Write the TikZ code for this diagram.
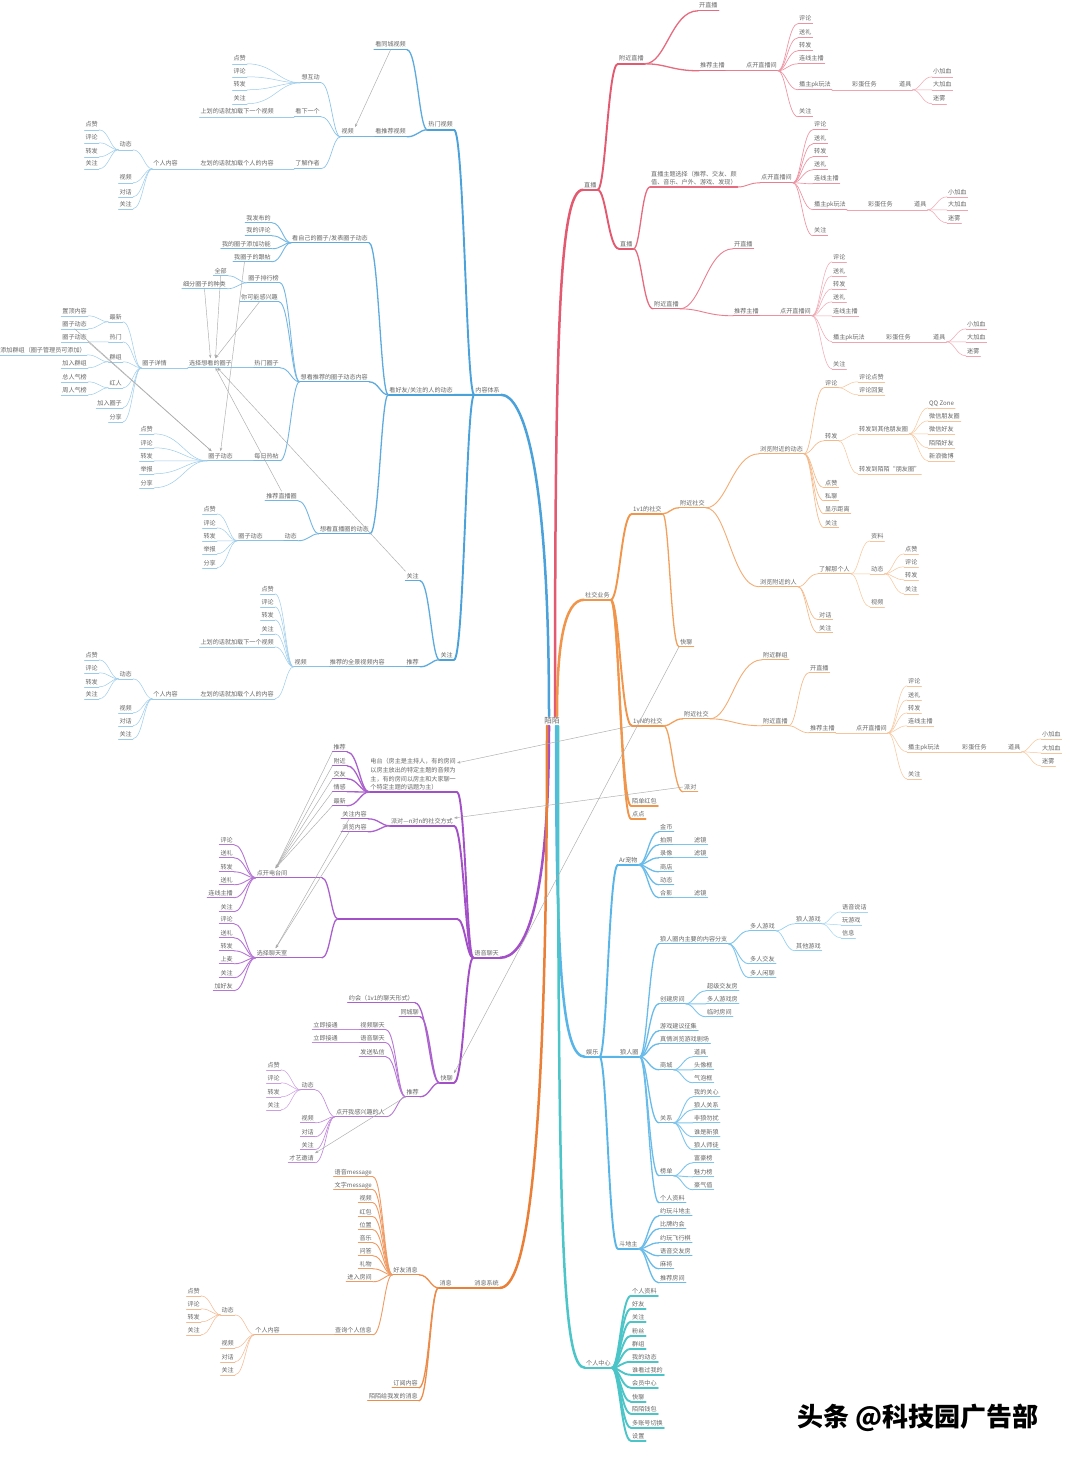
\documentclass[tikz,border=0pt]{standalone}
\usepackage{fontspec}
\newfontfamily\cjk{Noto Sans CJK SC}
\usetikzlibrary{arrows.meta, calc}
\definecolor{cred}{HTML}{E35A70}
\definecolor{corange}{HTML}{F0954A}
\definecolor{csky}{HTML}{58B5E8}
\definecolor{cteal}{HTML}{4CC5C8}
\definecolor{cblue}{HTML}{4BA2DA}
\definecolor{cpurple}{HTML}{A24FC8}
\definecolor{cmsg}{HTML}{EA7F37}
\definecolor{cgrey}{HTML}{666666}
\definecolor{clink}{HTML}{ABABAB}
\colorlet{bc}{cred}
\tikzset{
  tx/.style={font=\cjk\fontsize{6.1}{7.3}\selectfont, text=cgrey, inner xsep=1pt, inner ysep=1.4pt},
  one/.style={tx, text height=5.2pt, text depth=1.2pt},
  ul/.style={append after command={(\tikzlastnode.south west) edge[#1] (\tikzlastnode.south east)}},
  nr/.style={one, anchor=west, ul=#1},
  nl/.style={one, anchor=east, ul=#1},
  l1/.style={draw=bc, line width=2.5pt},
  l2/.style={draw=bc, line width=1.9pt},
  l3/.style={draw=bc!90!white, line width=1.3pt},
  l4/.style={draw=bc!78!white, line width=0.9pt},
  l5/.style={draw=bc!66!white, line width=0.65pt},
  l6/.style={draw=bc!55!white, line width=0.5pt},
  lk/.style={to path={.. controls ($(\tikztostart)!.4!(\tikztotarget|-\tikztostart)$) and ($(\tikztotarget)!.5!(\tikztostart|-\tikztotarget)$) .. (\tikztotarget) \tikztonodes}},
  xl/.style={draw=clink, line width=0.45pt, -{Stealth[length=3.5pt, width=2.6pt]}},
}
\begin{document}
\begin{tikzpicture}[x=1pt, y=-1pt, line cap=round]
\useasboundingbox (0,0) rectangle (1080,1458);
\fill[white] (0,0) rectangle (1080,1458);
\node[tx, font=\cjk\fontsize{7.6}{9}\selectfont] (mm) at (552,721) {陌陌};

% 直播
\begin{scope}
\colorlet{bc}{cred}
\node[nr=l1] (zb) at (583,185) {直播};
\draw[l1] ([xshift=3pt]mm.north) .. controls +(0,-380) and +(-24,0) .. (zb.south west);
\node[nr=l2] (zb1) at (618,59) {附近直播};
\node[nr=l2] (zb2) at (619,244) {直播};
\foreach \c in {zb1,zb2} \draw[l2] (zb.south east) to[lk] (\c.south west);
\node[nr=l3] (zb1a) at (698,6) {开直播};
\node[nr=l3] (zb1b) at (699,66) {推荐主播};
\foreach \c in {zb1a,zb1b} \draw[l3] (zb1.south east) to[lk] (\c.south west);
\node[nr=l4] (zb1c) at (745,66) {点开直播间};
\draw[l4] (zb1b.south east) -- (zb1c.south west);
\foreach \y/\t [count=\i] in {19/评论,33/送礼,46/转发,59/连线主播,85/播主pk玩法,112/关注} {
  \node[nr=l5] (zb1d\i) at (798,\y) {\t};
  \draw[l5] (zb1c.south east) to[lk] (zb1d\i.south west);
}
\node[nr=l6] (zb1e) at (851,85) {彩蛋任务};
\node[nr=l6] (zb1f) at (898,85) {道具};
\draw[l6] (zb1d5.south east) -- (zb1e.south west);
\draw[l6] (zb1e.south east) -- (zb1f.south west);
\foreach \y/\t [count=\i] in {72/小加血,85/大加血,99/迷雾} {
  \node[nr=l6] (zb1g\i) at (932,\y) {\t};
  \draw[l6] (zb1f.south east) to[lk] (zb1g\i.south west);
}
\node[tx, anchor=south west, align=left, font=\cjk\fontsize{6.1}{8.8}\selectfont, ul=l3] (zb2a) at (650,187) {直播主题选择（推荐、交友、颜\\值、音乐、户外、游戏、发现）};
\node[nr=l3] (zb2g) at (653,304) {附近直播};
\foreach \c in {zb2a,zb2g} \draw[l3] (zb2.south east) to[lk] (\c.south west);
\node[nr=l4] (zb2b) at (760,178) {点开直播间};
\draw[l4] (zb2a.south east) to[lk] (zb2b.south west);
\foreach \y/\t [count=\i] in {125/评论,139/送礼,152/转发,165/送礼,179/连线主播,205/播主pk玩法,231/关注} {
  \node[nr=l5] (zb2c\i) at (813,\y) {\t};
  \draw[l5] (zb2b.south east) to[lk] (zb2c\i.south west);
}
\node[nr=l6] (zb2d) at (867,205) {彩蛋任务};
\node[nr=l6] (zb2e) at (913,205) {道具};
\draw[l6] (zb2c6.south east) -- (zb2d.south west);
\draw[l6] (zb2d.south east) -- (zb2e.south west);
\foreach \y/\t [count=\i] in {192/小加血,205/大加血,218/迷雾} {
  \node[nr=l6] (zb2f\i) at (947,\y) {\t};
  \draw[l6] (zb2e.south east) to[lk] (zb2f\i.south west);
}
\node[nr=l4] (zb2h) at (733,244) {开直播};
\node[nr=l4] (zb2i) at (733,311) {推荐主播};
\foreach \c in {zb2h,zb2i} \draw[l4] (zb2g.south east) to[lk] (\c.south west);
\node[nr=l5] (zb2j) at (779,311) {点开直播间};
\draw[l5] (zb2i.south east) -- (zb2j.south west);
\foreach \y/\t [count=\i] in {257/评论,271/送礼,284/转发,297/送礼,311/连线主播,337/播主pk玩法,364/关注} {
  \node[nr=l6] (zb2k\i) at (832,\y) {\t};
  \draw[l6] (zb2j.south east) to[lk] (zb2k\i.south west);
}
\node[nr=l6] (zb2l) at (885,337) {彩蛋任务};
\node[nr=l6] (zb2m) at (932,337) {道具};
\draw[l6] (zb2k6.south east) -- (zb2l.south west);
\draw[l6] (zb2l.south east) -- (zb2m.south west);
\foreach \y/\t [count=\i] in {324/小加血,337/大加血,351/迷雾} {
  \node[nr=l6] (zb2n\i) at (966,\y) {\t};
  \draw[l6] (zb2m.south east) to[lk] (zb2n\i.south west);
}
\end{scope}

% 社交业务
\begin{scope}
\colorlet{bc}{corange}
\node[nr=l1] (sj) at (584,595) {社交业务};
\draw[l1] ([xshift=5pt]mm.north) .. controls +(0,-70) and +(-20,0) .. (sj.south west);
\node[nr=l2] (sj1) at (632,509) {1v1的社交};
\node[nr=l2] (sj2) at (632,721) {1vN的社交};
\node[nr=l2] (sj3) at (631,801) {陌单红包};
\node[nr=l2] (sj4) at (631,814) {点点};
\foreach \c in {sj1,sj2,sj3,sj4} \draw[l2] (sj.south east) to[lk] (\c.south west);
\node[nr=l3] (sj1a) at (679,503) {附近社交};
\node[nr=l3] (sj1b) at (679,642) {快聊};
\foreach \c in {sj1a,sj1b} \draw[l3] (sj1.south east) to[lk] (\c.south west);
\node[nr=l4] (sj1c) at (759,449) {浏览附近的动态};
\node[nr=l4] (sj1h) at (759,582) {浏览附近的人};
\foreach \c in {sj1c,sj1h} \draw[l4] (sj1a.south east) to[lk] (\c.south west);
\foreach \y/\t [count=\i] in {383/评论,436/转发,483/点赞,496/私聊,509/显示距离,523/关注} {
  \node[nr=l5] (sj1c\i) at (824,\y) {\t};
  \draw[l5] (sj1c.south east) to[lk] (sj1c\i.south west);
}
\foreach \y/\t [count=\i] in {377/评论点赞,390/评论回复} {
  \node[nr=l6] (sj1d\i) at (858,\y) {\t};
  \draw[l6] (sj1c1.south east) to[lk] (sj1d\i.south west);
}
\node[nr=l6] (sj1e) at (858,429) {转发到其他朋友圈};
\node[nr=l6] (sj1f) at (858,469) {转发到陌陌“朋友圈”};
\foreach \c in {sj1e,sj1f} \draw[l6] (sj1c2.south east) to[lk] (\c.south west);
\foreach \y/\t [count=\i] in {403/QQ Zone,416/微信朋友圈,429/微信好友,443/陌陌好友,456/新浪微博} {
  \node[nr=l6] (sj1g\i) at (928,\y) {\t};
  \draw[l6] (sj1e.south east) to[lk] (sj1g\i.south west);
}
\node[nr=l5] (sj1i) at (818,569) {了解那个人};
\node[nr=l5] (sj1m) at (818,615) {对话};
\node[nr=l5] (sj1n) at (818,628) {关注};
\foreach \c in {sj1i,sj1m,sj1n} \draw[l5] (sj1h.south east) to[lk] (\c.south west);
\node[nr=l6] (sj1j) at (870,536) {资料};
\node[nr=l6] (sj1k) at (870,569) {动态};
\node[nr=l6] (sj1l) at (870,602) {视频};
\foreach \c in {sj1j,sj1k,sj1l} \draw[l6] (sj1i.south east) to[lk] (\c.south west);
\foreach \y/\t [count=\i] in {549/点赞,562/评论,575/转发,589/关注} {
  \node[nr=l6] (sj1k\i) at (904,\y) {\t};
  \draw[l6] (sj1k.south east) to[lk] (sj1k\i.south west);
}
\node[nr=l3] (sj2a) at (683,714) {附近社交};
\node[nr=l3] (sj2b) at (683,787) {派对};
\foreach \c in {sj2a,sj2b} \draw[l3] (sj2.south east) to[lk] (\c.south west);
\node[nr=l4] (sj2c) at (762,655) {附近群组};
\node[nr=l4] (sj2d) at (762,721) {附近直播};
\foreach \c in {sj2c,sj2d} \draw[l4] (sj2a.south east) to[lk] (\c.south west);
\node[nr=l5] (sj2e) at (809,668) {开直播};
\node[nr=l5] (sj2f) at (809,728) {推荐主播};
\foreach \c in {sj2e,sj2f} \draw[l5] (sj2d.south east) to[lk] (\c.south west);
\node[nr=l6] (sj2g) at (855,728) {点开直播间};
\draw[l6] (sj2f.south east) -- (sj2g.south west);
\foreach \y/\t [count=\i] in {681/评论,695/送礼,708/转发,721/连线主播,747/播主pk玩法,774/关注} {
  \node[nr=l6] (sj2g\i) at (907,\y) {\t};
  \draw[l6] (sj2g.south east) to[lk] (sj2g\i.south west);
}
\node[nr=l6] (sj2h) at (961,747) {彩蛋任务};
\node[nr=l6] (sj2i) at (1007,747) {道具};
\draw[l6] (sj2g5.south east) -- (sj2h.south west);
\draw[l6] (sj2h.south east) -- (sj2i.south west);
\foreach \y/\t [count=\i] in {734/小加血,748/大加血,761/迷雾} {
  \node[nr=l6] (sj2j\i) at (1041,\y) {\t};
  \draw[l6] (sj2i.south east) to[lk] (sj2j\i.south west);
}
\end{scope}

% 娱乐
\begin{scope}
\colorlet{bc}{csky}
\node[nr=l1] (yl) at (585,1052) {娱乐};
\draw[l1] ([xshift=4pt]mm.south) .. controls +(0,250) and +(-22,0) .. (yl.south west);
\node[nr=l2] (yl1) at (618,860) {Ar宠物};
\node[nr=l2] (yl2) at (619,1052) {狼人圈};
\node[nr=l2] (yl3) at (618,1244) {斗地主};
\foreach \c in {yl1,yl2,yl3} \draw[l2] (yl.south east) to[lk] (\c.south west);
\foreach \y/\t [count=\i] in {827/金币,840/拍照,853/录像,867/商店,880/动态,893/合影} {
  \node[nr=l3] (yl1\i) at (659,\y) {\t};
  \draw[l3] (yl1.south east) to[lk] (yl1\i.south west);
}
\foreach \p in {2,3,6} {
  \node[nr=l4] (yl1f\p) at (693,0|-yl1\p) {滤镜};
  \draw[l4] (yl1\p.south east) -- (yl1f\p.south west);
}
\node[nr=l3] (yl2a) at (659,939) {狼人圈内主要的内容分支};
\node[nr=l3] (yl2g) at (659,999) {创建房间};
\node[nr=l3] (yl2h) at (659,1026) {游戏建议征集};
\node[nr=l3] (yl2i) at (659,1039) {真情浏览游戏剧场};
\node[nr=l3] (yl2j) at (659,1065) {商城};
\node[nr=l3] (yl2k) at (659,1118) {关系};
\node[nr=l3] (yl2l) at (659,1171) {榜单};
\node[nr=l3] (yl2m) at (659,1198) {个人资料};
\foreach \c in {yl2a,yl2g,yl2h,yl2i,yl2j,yl2k,yl2l,yl2m} \draw[l3] (yl2.south east) to[lk] (\c.south west);
\node[nr=l4] (yl2b) at (749,926) {多人游戏};
\node[nr=l4] (yl2e) at (749,959) {多人交友};
\node[nr=l4] (yl2f) at (749,973) {多人闲聊};
\foreach \c in {yl2b,yl2e,yl2f} \draw[l4] (yl2a.south east) to[lk] (\c.south west);
\node[nr=l5] (yl2c) at (795,919) {狼人游戏};
\node[nr=l5] (yl2d) at (795,946) {其他游戏};
\foreach \c in {yl2c,yl2d} \draw[l5] (yl2b.south east) to[lk] (\c.south west);
\foreach \y/\t [count=\i] in {907/语音说话,920/玩游戏,933/信息} {
  \node[nr=l6] (yl2c\i) at (841,\y) {\t};
  \draw[l6] (yl2c.south east) to[lk] (yl2c\i.south west);
}
\foreach \y/\t [count=\i] in {986/超级交友房,999/多人游戏房,1012/临时房间} {
  \node[nr=l4] (yl2g\i) at (706,\y) {\t};
  \draw[l4] (yl2g.south east) to[lk] (yl2g\i.south west);
}
\foreach \y/\t [count=\i] in {1052/道具,1065/头像框,1078/气泡框} {
  \node[nr=l4] (yl2j\i) at (693,\y) {\t};
  \draw[l4] (yl2j.south east) to[lk] (yl2j\i.south west);
}
\foreach \y/\t [count=\i] in {1092/我的关心,1105/狼人关系,1118/非狼勿扰,1132/谁是新狼,1145/狼人师徒} {
  \node[nr=l4] (yl2k\i) at (693,\y) {\t};
  \draw[l4] (yl2k.south east) to[lk] (yl2k\i.south west);
}
\foreach \y/\t [count=\i] in {1158/富豪榜,1172/魅力榜,1185/豪气值} {
  \node[nr=l4] (yl2l\i) at (693,\y) {\t};
  \draw[l4] (yl2l.south east) to[lk] (yl2l\i.south west);
}
\foreach \y/\t [count=\i] in {1211/约玩斗地主,1224/比牌约会,1238/约玩飞行棋,1251/语音交友房,1264/麻将,1278/推荐房间} {
  \node[nr=l3] (yl3\i) at (659,\y) {\t};
  \draw[l3] (yl3.south east) to[lk] (yl3\i.south west);
}
\end{scope}

% 个人中心
\begin{scope}
\colorlet{bc}{cteal}
\node[nr=l1] (gr) at (585,1363) {个人中心};
\draw[l1] ([xshift=6pt]mm.south) .. controls +(0,520) and +(-22,0) .. (gr.south west);
\foreach \y/\t [count=\i] in {1291/个人资料,1304/好友,1317/关注,1331/粉丝,1344/群组,1357/我的动态,1370/谁看过我的,1383/会员中心,1397/快聊,1409/陌陌钱包,1423/多账号切换,1436/设置} {
  \node[nr=l2] (gr\i) at (631,\y) {\t};
  \draw[l2] (gr.south east) to[lk] (gr\i.south west);
}
\end{scope}

% 内容体系
\begin{scope}
\colorlet{bc}{cblue}
\node[nl=l1] (nr) at (501,390) {内容体系};
\draw[l1] ([xshift=-3pt]mm.north) .. controls +(0,-250) and +(22,0) .. (nr.south east);
\node[nl=l2] (nr1) at (454,125) {热门视频};
\node[nl=l2] (nr2) at (454,390) {看好友/关注的人的动态};
\node[nl=l2] (nr3) at (454,655) {关注};
\foreach \c in {nr1,nr2,nr3} \draw[l2] (nr.south west) to[lk] (\c.south east);
\node[nl=l3] (nr1a) at (407,45) {看同城视频};
\node[nl=l3] (nr1b) at (407,132) {看推荐视频};
\foreach \c in {nr1a,nr1b} \draw[l3] (nr1.south west) to[lk] (\c.south east);
\node[nl=l4] (nr1c) at (355,132) {视频};
\draw[l4] (nr1b.south west) -- (nr1c.south east);
\node[nl=l5] (nr1d) at (321,78) {想互动};
\node[nl=l5] (nr1e) at (321,112) {看下一个};
\node[nl=l5] (nr1f) at (321,164) {了解作者};
\foreach \c in {nr1d,nr1e,nr1f} \draw[l5] (nr1c.south west) to[lk] (\c.south east);
\foreach \y/\t [count=\i] in {59/点赞,72/评论,85/转发,99/关注} {
  \node[nl=l6] (nr1d\i) at (247,\y) {\t};
  \draw[l6] (nr1d.south west) to[lk] (nr1d\i.south east);
}
\node[nl=l6] (nr1g) at (275,112) {上划的话就加载下一个视频};
\draw[l6] (nr1e.south west) -- (nr1g.south east);
\node[nl=l6] (nr1h) at (275,164) {左划的话就加载个人的内容};
\draw[l6] (nr1f.south west) -- (nr1h.south east);
\node[nl=l6] (nr1i) at (179,164) {个人内容};
\draw[l6] (nr1h.south west) -- (nr1i.south east);
\node[nl=l6] (nr1j) at (133,145) {动态};
\draw[l6] (nr1i.south west) to[lk] (nr1j.south east);
\foreach \y/\t [count=\i] in {178/视频,192/对话,204/关注} {
  \node[nl=l6] (nr1k\i) at (133,\y) {\t};
  \draw[l6] (nr1i.south west) to[lk] (nr1k\i.south east);
}
\foreach \y/\t [count=\i] in {125/点赞,138/评论,152/转发,164/关注} {
  \node[nl=l6] (nr1j\i) at (99,\y) {\t};
  \draw[l6] (nr1j.south west) to[lk] (nr1j\i.south east);
}
\node[nl=l3] (nr2a) at (369,238) {看自己的圈子/发表圈子动态};
\node[nl=l3] (nr2b) at (369,377) {想看推荐的圈子动态内容};
\node[nl=l3] (nr2m) at (370,529) {想看直播圈的动态};
\foreach \c in {nr2a,nr2b,nr2m} \draw[l3] (nr2.south west) to[lk] (\c.south east);
\foreach \y/\t [count=\i] in {218/我发布的,231/我的评论,244/我的圈子添加功能,257/我圈子的跟帖} {
  \node[nl=l4] (nr2a\i) at (272,\y) {\t};
  \draw[l4] (nr2a.south west) to[lk] (nr2a\i.south east);
}
\node[nl=l4] (nr2c) at (280,278) {圈子排行榜};
\node[nl=l4] (nr2d) at (279,297) {你可能感兴趣};
\node[nl=l4] (nr2e) at (280,363) {热门圈子};
\node[nl=l4] (nr2k) at (280,456) {每日热帖};
\foreach \c in {nr2c,nr2d,nr2e,nr2k} \draw[l4] (nr2b.south west) to[lk] (\c.south east);
\node[nl=l5] (nr2c1) at (228,271) {全部};
\node[nl=l5] (nr2c2) at (227,284) {细分圈子的种类};
\foreach \c in {nr2c1,nr2c2} \draw[l5] (nr2c.south west) to[lk] (\c.south east);
\node[nl=l5] (nr2f) at (233,363) {选择想看的圈子};
\draw[l5] (nr2e.south west) -- (nr2f.south east);
\node[nl=l6] (nr2g) at (168,363) {圈子详情};
\draw[l6] (nr2f.south west) -- (nr2g.south east);
\foreach \y/\t [count=\i] in {317/最新,337/热门,357/群组,383/红人,403/加入圈子,417/分享} {
  \node[nl=l6] (nr2g\i) at (123,\y) {\t};
  \draw[l6] (nr2g.south west) to[lk] (nr2g\i.south east);
}
\node[nl=l6] (nr2h1) at (88,311) {置顶内容};
\node[nl=l6] (nr2h2) at (88,324) {圈子动态};
\node[nl=l6] (nr2h3) at (88,337) {圈子动态};
\node[nl=l6] (nr2h4) at (87,350) {添加群组（圈子管理员可添加）};
\node[nl=l6] (nr2h5) at (88,363) {加入群组};
\node[nl=l6] (nr2h6) at (88,377) {总人气榜};
\node[nl=l6] (nr2h7) at (88,390) {周人气榜};
\foreach \p/\c in {1/1,1/2,2/3,3/4,3/5,4/6,4/7}
  \draw[l6] (nr2g\p.south west) to[lk] (nr2h\c.south east);
\node[nl=l5] (nr2l) at (234,456) {圈子动态};
\draw[l5] (nr2k.south west) -- (nr2l.south east);
\foreach \y/\t [count=\i] in {429/点赞,443/评论,456/转发,469/举报,483/分享} {
  \node[nl=l6] (nr2l\i) at (154,\y) {\t};
  \draw[l6] (nr2l.south west) to[lk] (nr2l\i.south east);
}
\node[nl=l4] (nr2n) at (298,496) {推荐直播圈};
\node[nl=l4] (nr2o) at (298,536) {动态};
\foreach \c in {nr2n,nr2o} \draw[l4] (nr2m.south west) to[lk] (\c.south east);
\node[nl=l5] (nr2p) at (264,536) {圈子动态};
\draw[l5] (nr2o.south west) -- (nr2p.south east);
\foreach \y/\t [count=\i] in {509/点赞,523/评论,536/转发,549/举报,563/分享} {
  \node[nl=l6] (nr2p\i) at (217,\y) {\t};
  \draw[l6] (nr2p.south west) to[lk] (nr2p\i.south east);
}
\node[nl=l3] (nr3a) at (420,576) {关注};
\node[nl=l3] (nr3b) at (420,662) {推荐};
\foreach \c in {nr3a,nr3b} \draw[l3] (nr3.south west) to[lk] (\c.south east);
\node[nl=l4] (nr3c) at (386,662) {推荐的全景视频内容};
\draw[l4] (nr3b.south west) -- (nr3c.south east);
\node[nl=l5] (nr3d) at (308,662) {视频};
\draw[l5] (nr3c.south west) -- (nr3d.south east);
\foreach \y/\t [count=\i] in {589/点赞,602/评论,615/转发,629/关注,642/上划的话就加载下一个视频,694/左划的话就加载个人的内容} {
  \node[nl=l6] (nr3d\i) at (275,\y) {\t};
  \draw[l6] (nr3d.south west) to[lk] (nr3d\i.south east);
}
\node[nl=l6] (nr3e) at (179,694) {个人内容};
\draw[l6] (nr3d6.south west) -- (nr3e.south east);
\node[nl=l6] (nr3f) at (133,674) {动态};
\draw[l6] (nr3e.south west) to[lk] (nr3f.south east);
\foreach \y/\t [count=\i] in {708/视频,721/对话,734/关注} {
  \node[nl=l6] (nr3g\i) at (133,\y) {\t};
  \draw[l6] (nr3e.south west) to[lk] (nr3g\i.south east);
}
\foreach \y/\t [count=\i] in {655/点赞,668/评论,682/转发,694/关注} {
  \node[nl=l6] (nr3f\i) at (99,\y) {\t};
  \draw[l6] (nr3f.south west) to[lk] (nr3f\i.south east);
}
\end{scope}

% 语音聊天
\begin{scope}
\colorlet{bc}{cpurple}
\node[nl=l1] (yt) at (500,953) {语音聊天};
\draw[l1] ([xshift=-3pt]mm.south) .. controls +(0,180) and +(25,0) .. (yt.south east);
\node[tx, anchor=south east, align=left, font=\cjk\fontsize{6.1}{8.7}\selectfont, ul=l2] (yt1) at (457,792) {电台（房主是主持人，有的房间\\以房主放出的特定主题的音频为\\主，有的房间以房主和大家聊一\\个特定主题的话题为主）};
\node[nl=l2] (yt2) at (454,821) {派对—n对n的社交方式};
\node[nl=l2, minimum width=119pt] (yt3) at (457,914) {};
\node[nl=l2] (yt4) at (454,1078) {快聊};
\foreach \c in {yt1,yt2,yt3,yt4} \draw[l2] (yt.south west) to[lk] (\c.south east);
\foreach \y/\t [count=\i] in {747/推荐,761/附近,774/交友,787/情感,801/最新} {
  \node[nl=l3] (yt1\i) at (347,\y) {\t};
  \draw[l3] (yt1.south west) to[lk] (yt1\i.south east);
}
\foreach \y/\t [count=\i] in {814/关注内容,827/浏览内容} {
  \node[nl=l3] (yt2\i) at (368,\y) {\t};
  \draw[l3] (yt2.south west) to[lk] (yt2\i.south east);
}
\node[nl=l3, text width=64pt, align=left] (yt3a) at (322,873) {点开电台间};
\node[nl=l3, text width=64pt, align=left] (yt3b) at (322,953) {选择聊天室};
\foreach \c in {yt3a,yt3b} \draw[l3] (yt3.south west) to[lk] (\c.south east);
\foreach \y/\t [count=\i] in {840/评论,853/送礼,867/转发,880/送礼,893/连线主播,907/关注} {
  \node[nl=l4] (yt3a\i) at (234,\y) {\t};
  \draw[l4] (yt3a.south west) to[lk] (yt3a\i.south east);
}
\foreach \y/\t [count=\i] in {919/评论,933/送礼,946/转发,959/上麦,973/关注,986/加好友} {
  \node[nl=l4] (yt3b\i) at (234,\y) {\t};
  \draw[l4] (yt3b.south west) to[lk] (yt3b\i.south east);
}
\node[nl=l3] (yt4a) at (415,998) {约会（1v1的聊天形式）};
\node[nl=l3] (yt4b) at (420,1012) {同城聊};
\node[nl=l3] (yt4c) at (420,1092) {推荐};
\foreach \c in {yt4a,yt4b,yt4c} \draw[l3] (yt4.south west) to[lk] (\c.south east);
\foreach \y/\t [count=\i] in {1025/视频聊天,1038/语音聊天,1052/发送私信} {
  \node[nl=l4] (yt4c\i) at (386,\y) {\t};
  \draw[l4] (yt4c.south west) to[lk] (yt4c\i.south east);
}
\foreach \i in {1,2} {
  \node[nl=l5] (yt4e\i) at (339,0|-yt4c\i) {立即接通};
  \draw[l5] (yt4c\i.south west) -- (yt4e\i.south east);
}
\node[nl=l4] (yt4d) at (386,1112) {点开我感兴趣的人};
\draw[l4] (yt4c.south west) to[lk] (yt4d.south east);
\foreach \y/\t [count=\i] in {1085/动态,1118/视频,1132/对话,1145/关注,1158/才艺邀请} {
  \node[nl=l5] (yt4d\i) at (315,\y) {\t};
  \draw[l5] (yt4d.south west) to[lk] (yt4d\i.south east);
}
\foreach \y/\t [count=\i] in {1065/点赞,1078/评论,1092/转发,1105/关注} {
  \node[nl=l6] (yt4f\i) at (281,\y) {\t};
  \draw[l6] (yt4d1.south west) to[lk] (yt4f\i.south east);
}
\end{scope}

% 消息系统
\begin{scope}
\colorlet{bc}{cmsg}
\node[nl=l1] (xx) at (500,1283) {消息系统};
\draw[l1] ([xshift=-5pt]mm.south) .. controls +(0,450) and +(25,0) .. (xx.south east);
\node[nl=l2] (xx1) at (453,1283) {消息};
\draw[l2] (xx.south west) -- (xx1.south east);
\node[nl=l3] (xx1a) at (419,1270) {好友消息};
\node[nl=l3] (xx1e) at (419,1383) {订阅内容};
\node[nl=l3] (xx1f) at (419,1396) {陌陌给我发的消息};
\foreach \c in {xx1a,xx1e,xx1f} \draw[l3] (xx1.south west) to[lk] (\c.south east);
\foreach \y/\t [count=\i] in {1172/语音message,1185/文字message,1198/视频,1212/红包,1225/位置,1238/音乐,1251/问答,1264/礼物,1277/进入房间,1330/查询个人信息} {
  \node[nl=l4] (xx1a\i) at (373,\y) {\t};
  \draw[l4] (xx1a.south west) to[lk] (xx1a\i.south east);
}
\node[nl=l5] (xx1b) at (281,1330) {个人内容};
\draw[l5] (xx1a10.south west) -- (xx1b.south east);
\node[nl=l6] (xx1c) at (235,1310) {动态};
\draw[l6] (xx1b.south west) to[lk] (xx1c.south east);
\foreach \y/\t [count=\i] in {1343/视频,1357/对话,1370/关注} {
  \node[nl=l6] (xx1d\i) at (235,\y) {\t};
  \draw[l6] (xx1b.south west) to[lk] (xx1d\i.south east);
}
\foreach \y/\t [count=\i] in {1291/点赞,1304/评论,1317/转发,1330/关注} {
  \node[nl=l6] (xx1c\i) at (201,\y) {\t};
  \draw[l6] (xx1c.south west) to[lk] (xx1c\i.south east);
}
\end{scope}

% cross links
\draw[xl] (nr1a.south) -- (nr1c.north east);
\draw[xl] (nr2c1.south) -- ([xshift=5pt]nr2f.north);
\draw[xl] (nr2c2.south) -- (nr2f.north);
\draw[xl] (nr2d.south) -- ([xshift=5pt]nr2f.north);
\draw[xl] (nr2n.north) -- ([xshift=5pt]nr2f.south);
\draw[xl] (nr3a.north west) -- ([xshift=7pt]nr2f.south);
\draw[xl] (nr2h2.south) -- ([xshift=-9pt]nr2l.north);
\draw[xl] (nr2h3.south east) -- ([xshift=-9pt]nr2l.north);
\draw[xl] ([xshift=-8pt]nr2a4.south) -- (nr2l.north);
\foreach \i in {1,...,5} \draw[xl] (yt1\i.south west) -- ([xshift=20pt]yt3a.north west);
\foreach \i in {1,2} \draw[xl] ([xshift=8pt]yt2\i.south west) -- ([xshift=20pt]yt3b.north west);
\draw[xl] (sj2.south west) -- ([yshift=-6pt]yt1.north east);
\draw[xl] (sj2b.west) -- ([yshift=3pt]yt2.east);
\draw[xl] (sj1b.south west) -- (yt4.north east);
\draw[xl] (yt4c.south west) -- (yt4d5.north east);

\node[font=\cjk\bfseries\fontsize{26}{30}\selectfont, text=black] (wm) at (918,1418) {头条 @科技园广告部};
\end{tikzpicture}
\end{document}
